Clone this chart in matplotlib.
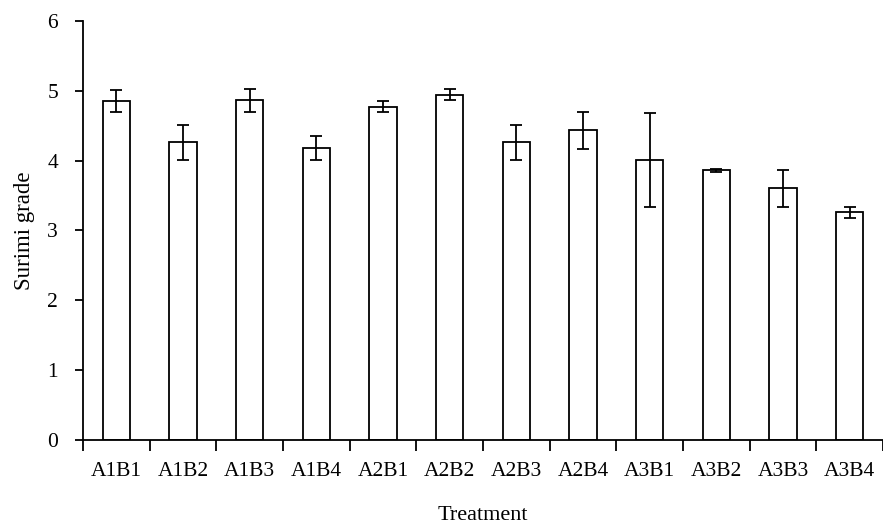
"""Surimi grade by treatment: open bars with error bars."""

import matplotlib

matplotlib.use("Agg")
import matplotlib.pyplot as plt
import numpy as np

treatments = ["A1B1", "A1B2", "A1B3", "A1B4", "A2B1", "A2B2",
              "A2B3", "A2B4", "A3B1", "A3B2", "A3B3", "A3B4"]
grade = [4.85, 4.26, 4.86, 4.18, 4.77, 4.94, 4.26, 4.43, 4.01, 3.86, 3.60, 3.26]
grade_err = [0.16, 0.25, 0.17, 0.17, 0.08, 0.08, 0.25, 0.26, 0.67, 0.02, 0.26, 0.08]


def main() -> None:
    plt.rcParams["font.family"] = ["Liberation Serif", "DejaVu Serif"]
    fig = plt.figure(figsize=(8.83, 5.26), dpi=100)
    ax = fig.add_axes([0.094, 0.1635, 0.906, 0.797])

    x = np.arange(len(treatments))
    ax.bar(x, grade, width=0.41, color="white", edgecolor="black", linewidth=1.3,
           yerr=grade_err, capsize=4.5,
           error_kw=dict(ecolor="black", elinewidth=1.3, capthick=1.3))

    ax.set_xlim(-0.5, len(treatments) - 0.5)
    ax.set_ylim(0, 6)
    ax.set_yticks(range(0, 7))
    ax.set_xticks(x)
    ax.set_xticklabels(treatments)
    # ticks sit between categories, labels centred under bars
    ax.set_xticks(np.arange(len(treatments) + 1) - 0.5, minor=True)
    ax.tick_params(axis="x", which="major", length=0, pad=16, labelsize=15.5)
    ax.tick_params(axis="x", which="minor", length=8, width=1.3)
    ax.tick_params(axis="y", length=6, width=1.3, pad=12, labelsize=15.5)

    for side in ("top", "right"):
        ax.spines[side].set_visible(False)
    for side in ("left", "bottom"):
        ax.spines[side].set_linewidth(1.3)

    ax.set_xlabel("Treatment", fontsize=16, labelpad=18)
    ax.set_ylabel("Surimi grade", fontsize=16.5, labelpad=9)

    fig.savefig("out.png", dpi=100)


if __name__ == "__main__":
    main()
